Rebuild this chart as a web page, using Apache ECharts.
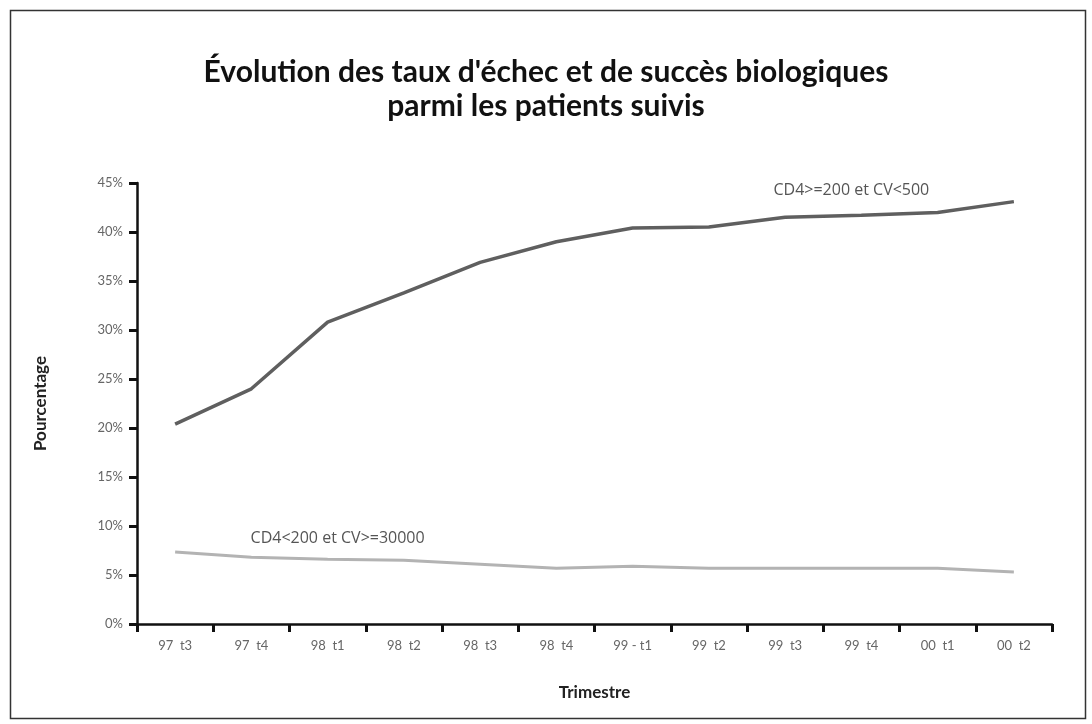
<!DOCTYPE html>
<html>
<head>
<meta charset="utf-8">
<script src="https://cdn.jsdelivr.net/npm/echarts@6/dist/echarts.min.js"></script>
<style>html,body{margin:0;padding:0;background:#fff;}#c{width:1092px;height:724px;}</style>
</head>
<body>
<div id="c"></div>
<script>
const categories = ["97  t3","97  t4","98  t1","98  t2","98  t3","98  t4","99 - t1","99  t2","99  t3","99  t4","00  t1","00  t2"];
const succes = [20.4, 24.0, 30.8, 33.8, 36.9, 39.0, 40.4, 40.5, 41.5, 41.7, 42.0, 43.1];
const echec = [7.35, 6.8, 6.6, 6.5, 6.1, 5.7, 5.9, 5.7, 5.7, 5.7, 5.7, 5.3];
const yTicks = [0, 5, 10, 15, 20, 25, 30, 35, 40, 45];
const labelSucces = "CD4>=200 et CV<500";
const labelEchec = "CD4<200 et CV>=30000";
const titleText = "Évolution des taux d'échec et de succès biologiques\nparmi les patients suivis";

const chart = echarts.init(document.getElementById('c'), null, {renderer: 'canvas'});
const labelStyle = {color: '#555', fontFamily: '"Open Sans", Lato, sans-serif', fontSize: 16};
chart.setOption({
  animation: false,
  backgroundColor: '#fff',
  title: {
    text: titleText,
    left: 'center', top: 50,
    textStyle: {fontFamily: 'Lato, "Open Sans", sans-serif', fontWeight: 'bold', fontSize: 30, lineHeight: 34, color: '#111'}
  },
  graphic: [{
    type: 'rect', left: 8, top: 8, shape: {width: 1075, height: 708},
    style: {fill: 'none', stroke: '#333', lineWidth: 1.5}, silent: true
  }],
  grid: {left: 137, right: 40, top: 183, bottom: 100},
  xAxis: {
    type: 'category', data: categories, boundaryGap: true,
    name: 'Trimestre', nameLocation: 'middle', nameGap: 60,
    nameTextStyle: {fontFamily: 'Lato, "Open Sans", sans-serif', fontWeight: 'bold', fontSize: 17, color: '#222'},
    axisLine: {lineStyle: {color: '#111', width: 2.5}},
    axisTick: {show: true, alignWithLabel: false, length: 8, lineStyle: {color: '#111', width: 3}},
    axisLabel: {color: '#666', fontFamily: 'Lato, "Open Sans", sans-serif', fontSize: 13, margin: 15, interval: 0}
  },
  yAxis: {
    type: 'value', min: 0, max: 45, interval: 5,
    name: 'Pourcentage', nameLocation: 'middle', nameGap: 88, nameRotate: 90,
    nameTextStyle: {fontFamily: 'Lato, "Open Sans", sans-serif', fontWeight: 'bold', fontSize: 17, color: '#222'},
    axisLine: {show: true, lineStyle: {color: '#111', width: 2.5}},
    axisTick: {show: true, length: 8, lineStyle: {color: '#111', width: 3}},
    splitLine: {show: false},
    axisLabel: {color: '#666', fontFamily: 'Lato, "Open Sans", sans-serif', fontSize: 13, margin: 14,
      formatter: v => yTicks.indexOf(v) >= 0 ? v + '%' : ''}
  },
  series: [{
    type: 'line', name: labelSucces,
    data: succes.map((v, i) => i === 9 ? {value: v, label: {show: true, position: 'top', distance: 17, offset: [-10, 0], formatter: labelSucces, ...labelStyle}} : v),
    symbol: 'circle', symbolSize: 0, showSymbol: true, lineStyle: {color: '#5f5f5f', width: 3.5}, z: 3
  }, {
    type: 'line', name: labelEchec,
    data: echec.map((v, i) => i === 2 ? {value: v, label: {show: true, position: 'top', distance: 13, offset: [10, 0], formatter: labelEchec, ...labelStyle}} : v),
    symbol: 'circle', symbolSize: 0, showSymbol: true, lineStyle: {color: '#b3b3b3', width: 3}, z: 2
  }]
});
</script>
</body>
</html>
